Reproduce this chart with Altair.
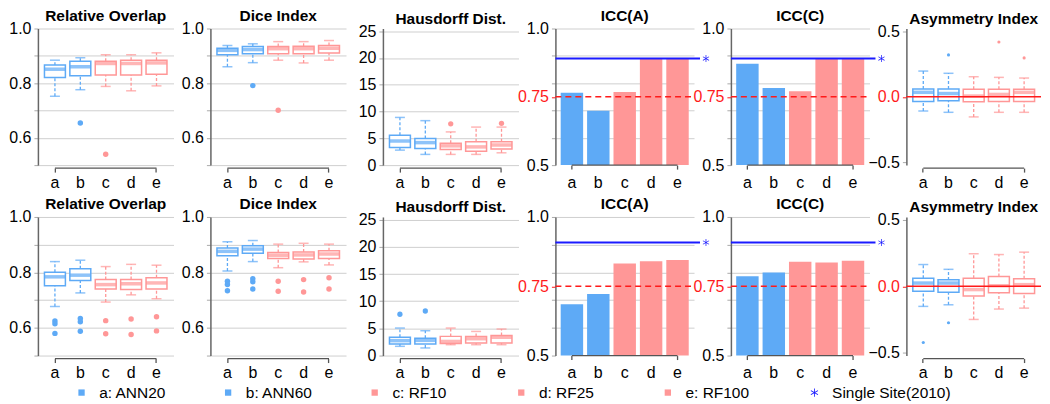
import altair as alt
import pandas as pd

CATS = ["a", "b", "c", "d", "e"]
LEGEND_LABELS = ["a: ANN20", "b: ANN60", "c: RF10", "d: RF25", "e: RF100", "Single Site(2010)"]
TITLES = ["Relative Overlap", "Dice Index", "Hausdorff Dist.", "ICC(A)", "ICC(C)", "Asymmetry Index"]

# ---------------- top row ----------------
RO1_LO = [0.752, 0.776, 0.788, 0.772, 0.790]
RO1_Q1 = [0.821, 0.827, 0.830, 0.830, 0.833]
RO1_MED = [0.851, 0.860, 0.872, 0.872, 0.874]
RO1_Q3 = [0.866, 0.880, 0.880, 0.884, 0.884]
RO1_HI = [0.884, 0.893, 0.904, 0.904, 0.911]
RO1_OUT = [[], [0.654], [0.540], [], []]

DI1_LO = [0.860, 0.875, 0.884, 0.874, 0.884]
DI1_Q1 = [0.904, 0.908, 0.908, 0.908, 0.910]
DI1_MED = [0.920, 0.923, 0.926, 0.926, 0.928]
DI1_Q3 = [0.928, 0.934, 0.934, 0.935, 0.938]
DI1_HI = [0.938, 0.944, 0.952, 0.952, 0.956]
DI1_OUT = [[], [0.791], [0.701], [], []]

HD1_LO = [2.8, 2.0, 2.0, 2.0, 2.3]
HD1_Q1 = [3.3, 3.1, 2.9, 2.6, 3.0]
HD1_MED = [4.5, 4.2, 3.6, 3.4, 3.75]
HD1_Q3 = [5.56, 4.95, 4.1, 4.35, 4.35]
HD1_HI = [8.9, 8.3, 6.2, 7.1, 7.1]
HD1_OUT = [[], [], [7.7], [], [7.8]]

ICCA1 = [0.765, 0.699, 0.768, 0.890, 0.890]
ICCC1 = [0.871, 0.782, 0.770, 0.890, 0.890]
SINGLE1 = 0.890

AS1_LO = [-0.108, -0.118, -0.153, -0.118, -0.118]
AS1_Q1 = [-0.035, -0.030, -0.037, -0.035, -0.035]
AS1_MED = [0.034, 0.025, 0.006, 0.018, 0.034]
AS1_Q3 = [0.060, 0.060, 0.058, 0.058, 0.058]
AS1_HI = [0.196, 0.179, 0.153, 0.148, 0.143]
AS1_OUT = [[], [0.319], [], [0.417], [0.296]]

# ---------------- bottom row ----------------
RO2_LO = [0.677, 0.726, 0.693, 0.719, 0.705]
RO2_Q1 = [0.752, 0.771, 0.740, 0.738, 0.740]
RO2_MED = [0.784, 0.790, 0.756, 0.759, 0.762]
RO2_Q3 = [0.801, 0.813, 0.774, 0.774, 0.781]
RO2_HI = [0.839, 0.844, 0.821, 0.829, 0.826]
RO2_OUT = [[0.625, 0.615, 0.580], [0.634, 0.622, 0.588], [0.626, 0.579], [0.632, 0.576], [0.640, 0.589]]

DI2_LO = [0.805, 0.839, 0.817, 0.838, 0.827]
DI2_Q1 = [0.860, 0.869, 0.850, 0.848, 0.850]
DI2_MED = [0.876, 0.884, 0.862, 0.863, 0.866]
DI2_Q3 = [0.888, 0.896, 0.872, 0.874, 0.878]
DI2_HI = [0.911, 0.915, 0.902, 0.905, 0.902]
DI2_OUT = [[0.768, 0.756, 0.734], [0.777, 0.766, 0.740], [0.768, 0.732], [0.774, 0.729], [0.781, 0.740]]

HD2_LO = [1.7, 1.4, 2.0, 2.0, 2.0]
HD2_Q1 = [2.14, 2.14, 2.2, 2.3, 2.3]
HD2_MED = [2.74, 2.8, 2.6, 3.1, 3.35]
HD2_Q3 = [3.35, 3.2, 3.53, 3.53, 3.7]
HD2_HI = [5.06, 4.57, 5.06, 4.44, 4.88]
HD2_OUT = [[7.6], [8.2], [], [], []]

ICCA2 = [0.685, 0.722, 0.832, 0.840, 0.845]
ICCC2 = [0.786, 0.800, 0.838, 0.836, 0.842]
SINGLE2 = 0.908

AS2_LO = [-0.151, -0.139, -0.249, -0.171, -0.164]
AS2_Q1 = [-0.037, -0.044, -0.073, -0.049, -0.054]
AS2_MED = [0.024, 0.024, -0.025, 0.004, 0.012]
AS2_Q3 = [0.061, 0.048, 0.061, 0.073, 0.056]
AS2_HI = [0.163, 0.127, 0.244, 0.238, 0.256]
AS2_OUT = [[-0.422], [-0.274], [], [], []]

ICC_THRESHOLD = 0.75
ASYM_ZERO = 0.0

# ---------------- styles ----------------
BLUE = "#5eaaf6"
PINK = "#ff9797"
LINE_BLUE = "#1a1aff"
RED = "#ff1a1a"
GRID = "#cfcfcf"
FONT = "Liberation Sans"
CAT_COLORS = [BLUE, BLUE, PINK, PINK, PINK]
LEGEND_COLORS = [BLUE, BLUE, PINK, PINK, PINK, LINE_BLUE]
ASTERISK = ("M-0.13,-1.3L0.13,-1.3L0.13,1.3L-0.13,1.3Z"
            "M1.06,-0.76L1.19,-0.54L-1.06,0.76L-1.19,0.54Z"
            "M1.19,0.54L1.06,0.76L-1.19,-0.54L-1.06,-0.76Z")

W_BOX = 136
W_ICC = 139
W_ASYM = 135
H1 = 137
H2 = 139
BOX_W = 21


def cat_scale():
    return alt.Scale(domain=CATS, range=CAT_COLORS)


def x_parts(kind, offset, label_pad):
    if kind == "bar":
        scale = alt.Scale(domain=CATS, paddingInner=0.15, paddingOuter=0.2)
    else:
        scale = alt.Scale(domain=CATS, paddingInner=0, paddingOuter=0.17)
    axis = alt.Axis(title=None, domain=False, labelAngle=0, offset=offset, tickSize=4,
                    labelPadding=label_pad, tickColor="#555", tickWidth=1.3,
                    tickOpacity={"condition": {"test": "datum.value == 'a' || datum.value == 'e'", "value": 1}, "value": 0},
                    labelFontSize=16, labelColor="black")
    return scale, axis


def x_line(H, offset, scale, axis):
    return (alt.Chart(pd.DataFrame({"s": ["a"], "e": ["e"]}))
            .mark_rule(color="#555", strokeWidth=1.3)
            .encode(x=alt.X("s:N", scale=scale, axis=axis), x2="e:N", y=alt.value(H + offset)))


def title_of(t):
    return alt.TitleParams(text=t, fontSize=15.5, fontWeight="bold", offset=-4, anchor="middle", color="black", font=FONT)


def box_panel(title, lo, q1, med, q3, hi, outs, ydom, yaxis, W, H, out_size, zero=None, legend_layer=None):
    df = pd.DataFrame({"cat": CATS, "lo": lo, "q1": q1, "med": med, "q3": q3, "hi": hi})
    rows = [(c, v) for c, vs in zip(CATS, outs) for v in vs]
    odf = pd.DataFrame(rows, columns=["cat", "v"])
    xs, xa = x_parts("box", 3, 2)
    X = alt.X("cat:N", scale=xs, axis=xa)
    ys = alt.Scale(domain=ydom, nice=False, zero=False)
    base = alt.Chart(df)
    stroke = alt.Stroke("cat:N", scale=cat_scale(), legend=None)
    fill = alt.Fill("cat:N", scale=cat_scale(), legend=None)
    layers = [
        base.mark_rule(strokeDash=[3, 2], strokeWidth=1.3).encode(
            x=X, y=alt.Y("lo:Q", scale=ys, axis=yaxis), y2="q1:Q", stroke=stroke),
        base.mark_rule(strokeDash=[3, 2], strokeWidth=1.3).encode(
            x=X, y=alt.Y("q3:Q", scale=ys, axis=yaxis), y2="hi:Q", stroke=stroke),
        base.mark_tick(size=10, thickness=1.5).encode(
            x=X, y=alt.Y("lo:Q", scale=ys, axis=yaxis), fill=fill),
        base.mark_tick(size=10, thickness=1.5).encode(
            x=X, y=alt.Y("hi:Q", scale=ys, axis=yaxis), fill=fill),
        base.mark_bar(size=BOX_W, fill="white", strokeWidth=1.5).encode(
            x=X, y=alt.Y("q1:Q", scale=ys, axis=yaxis), y2="q3:Q", stroke=stroke),
        base.mark_tick(size=BOX_W, thickness=3.5).encode(
            x=X, y=alt.Y("med:Q", scale=ys, axis=yaxis), fill=fill),
        alt.Chart(odf).mark_circle(size=out_size, opacity=1).encode(
            x=X, y=alt.Y("v:Q", scale=ys, axis=yaxis), fill=fill),
        x_line(H, 3, xs, xa),
    ]
    if zero is not None:
        layers.append(
            alt.Chart(pd.DataFrame({"z": [zero]})).mark_rule(color=RED, strokeWidth=1.5).encode(
                y=alt.Y("z:Q", scale=ys, axis=yaxis), x=alt.value(0), x2=alt.value(W)))
    if legend_layer is not None:
        layers.append(legend_layer)
    return alt.layer(*layers).properties(width=W, height=H, title=title_of(title))


def icc_panel(title, vals, single, W, H):
    df = pd.DataFrame({"cat": CATS, "v": vals})
    xs, xa = x_parts("bar", 0, 5)
    X = alt.X("cat:N", scale=xs, axis=xa)
    ys = alt.Scale(domain=[0.5, 1.0], nice=False, zero=False)
    is75 = "datum.value == 0.75"
    yaxis = alt.Axis(
        title=None, values=[0.5, 0.6, 0.7, 0.75, 0.8, 0.9, 1.0],
        labelExpr="datum.value == 0.75 ? '0.75' : ((datum.value == 0.5 || datum.value == 1) ? format(datum.value, '.1f') : '')",
        labelColor={"condition": {"test": is75, "value": RED}, "value": "black"},
        tickColor={"condition": {"test": is75, "value": RED}, "value": "#aaa"},
        gridColor={"condition": {"test": is75 + " || datum.value == 0.5", "value": "rgba(0,0,0,0)"}, "value": GRID},
        grid=True)
    fill = alt.Fill("cat:N", scale=cat_scale(), legend=None)
    layers = [
        alt.Chart(df).mark_bar().encode(
            x=X, y=alt.Y("v:Q", scale=ys, axis=yaxis), y2=alt.datum(0.5), fill=fill),
        alt.Chart(pd.DataFrame({"t": [ICC_THRESHOLD]})).mark_rule(color=RED, strokeWidth=1.5, strokeDash=[6, 4]).encode(
            y=alt.Y("t:Q", scale=ys, axis=yaxis), x=alt.value(0), x2=alt.value(W)),
        alt.Chart(pd.DataFrame({"s": [single]})).mark_rule(color=LINE_BLUE, strokeWidth=2).encode(
            y=alt.Y("s:Q", scale=ys, axis=yaxis), x=alt.value(0), x2=alt.value(W + 6)),
        alt.Chart(pd.DataFrame({"s": [single]})).mark_point(shape=ASTERISK, filled=True, size=30, color=LINE_BLUE, opacity=1).encode(
            y=alt.Y("s:Q", scale=ys, axis=yaxis), x=alt.value(W + 12)),
        x_line(H, 0, xs, xa),
    ]
    return alt.layer(*layers).properties(width=W, height=H, title=title_of(title))


ratio_axis = alt.Axis(
    title=None, values=[0.5, 0.6, 0.7, 0.8, 0.9, 1.0],
    labelExpr="(round(datum.value * 10) % 2 == 0 && datum.value > 0.55) ? format(datum.value, '.1f') : ''",
    grid=True, gridColor=GRID)
haus_axis = alt.Axis(title=None, values=[0, 5, 10, 15, 20, 25], grid=True, gridColor=GRID)
asym_axis = alt.Axis(
    title=None, values=[-0.5, 0, 0.5], format=".1f", grid=False,
    labelColor={"condition": {"test": "datum.value == 0", "value": RED}, "value": "black"},
    tickColor={"condition": {"test": "datum.value == 0", "value": RED}, "value": "#aaa"})

legend_props = dict(title=None, orient="none", legendX=36, legendY=357, direction="horizontal",
                    columns=6, gridAlign="all", columnPadding=2, labelFontSize=15.5, labelOffset=10,
                    symbolSize=40, symbolStrokeWidth=0, labelFont=FONT, labelColor="black")
legend_layer = (alt.Chart(pd.DataFrame({"lab": LEGEND_LABELS}))
                .transform_filter("false")
                .mark_point(filled=True, opacity=1)
                .encode(color=alt.Color("lab:N", scale=alt.Scale(domain=LEGEND_LABELS, range=LEGEND_COLORS),
                                        legend=alt.Legend(**legend_props)),
                        shape=alt.Shape("lab:N", scale=alt.Scale(domain=LEGEND_LABELS, range=["square"] * 5 + [ASTERISK]),
                                        legend=alt.Legend(**legend_props))))


def row(data, H, with_legend):
    (ro, di, hd, icca, iccc, asy, single) = data
    return alt.hconcat(
        box_panel(TITLES[0], *ro, [0.5, 1.0], ratio_axis, W_BOX, H, 30,
                  legend_layer=legend_layer if with_legend else None),
        box_panel(TITLES[1], *di, [0.5, 1.0], ratio_axis, W_BOX, H, 30),
        box_panel(TITLES[2], *hd, [0, 25.5], haus_axis, W_BOX, H, 28),
        icc_panel(TITLES[3], icca, single, W_ICC, H),
        icc_panel(TITLES[4], iccc, single, W_ICC, H),
        box_panel(TITLES[5], *asy, [-0.52, 0.52], asym_axis, W_ASYM, H, 10, zero=ASYM_ZERO),
        spacing=37, bounds="flush")


top = row(((RO1_LO, RO1_Q1, RO1_MED, RO1_Q3, RO1_HI, RO1_OUT),
           (DI1_LO, DI1_Q1, DI1_MED, DI1_Q3, DI1_HI, DI1_OUT),
           (HD1_LO, HD1_Q1, HD1_MED, HD1_Q3, HD1_HI, HD1_OUT),
           ICCA1, ICCC1,
           (AS1_LO, AS1_Q1, AS1_MED, AS1_Q3, AS1_HI, AS1_OUT), SINGLE1), H1, True)
bottom = row(((RO2_LO, RO2_Q1, RO2_MED, RO2_Q3, RO2_HI, RO2_OUT),
              (DI2_LO, DI2_Q1, DI2_MED, DI2_Q3, DI2_HI, DI2_OUT),
              (HD2_LO, HD2_Q1, HD2_MED, HD2_Q3, HD2_HI, HD2_OUT),
              ICCA2, ICCC2,
              (AS2_LO, AS2_Q1, AS2_MED, AS2_Q3, AS2_HI, AS2_OUT), SINGLE2), H2, False)

chart = (alt.vconcat(top, bottom, spacing=7)
         .properties(padding={"left": 0, "top": 0, "right": 0, "bottom": 0})
         .configure(font=FONT)
         .configure_view(stroke=None)
         .configure_axis(labelFont=FONT, labelFontSize=16, labelColor="black", domainColor="#666",
                         domainWidth=1.5, tickSize=4, labelPadding=3, tickColor="#aaa"))

chart.save("out.html", embed_options={"renderer": "svg", "actions": False})
